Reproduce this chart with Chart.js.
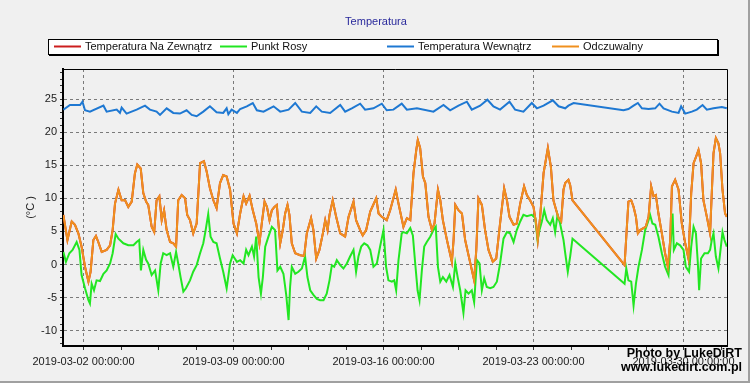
<!DOCTYPE html>
<html>
<head>
<meta charset="utf-8">
<script src="https://cdn.jsdelivr.net/npm/chart.js@4/dist/chart.umd.min.js"></script>
<style>
html,body{margin:0;padding:0;background:#f0f0f0;}
canvas{display:block;}
</style>
</head>
<body>
<canvas id="c" width="750" height="383"></canvas>
<script>
// ---- texts ----
const chartTitle = 'Temperatura';
const seriesNames = ['Temperatura Na Zewnątrz', 'Punkt Rosy', 'Temperatura Wewnątrz', 'Odczuwalny'];
const yAxisTitle = '(°C )';
const watermark = ['Photo by LukeDiRT', 'www.lukedirt.com.pl'];

// ---- x values: days since 2019-03-02 00:00:00 ----
// Odczuwalny (feels-like); the outside temperature coincides with it
const feelsDays = [-0.94,-0.75,-0.55,-0.40,-0.24,-0.09,0.07,0.23,0.33,0.46,0.58,0.69,0.85,1.08,1.24,1.36,1.47,1.63,1.78,1.94,2.09,2.25,2.40,2.51,2.67,2.79,2.92,3.02,3.18,3.30,3.41,3.54,3.65,3.76,3.88,4.04,4.19,4.32,4.42,4.58,4.74,4.84,4.97,5.12,5.28,5.44,5.62,5.75,5.90,6.06,6.21,6.37,6.52,6.68,6.84,
7.00,7.16,7.31,7.47,7.59,7.75,7.90,8.06,8.21,8.32,8.45,8.56,8.68,8.79,8.91,9.02,9.18,9.30,9.41,9.52,9.61,9.72,9.88,10.11,10.30,10.42,10.62,10.73,10.86,11.01,11.17,11.28,11.39,11.48,11.63,11.79,11.98,12.21,12.37,12.60,12.72,12.91,13.03,13.19,13.38,13.66,13.77,13.92,14.15,14.31,14.57,14.70,
14.93,15.09,15.25,15.40,15.53,15.60,15.71,15.84,15.95,16.10,16.26,16.38,16.54,16.65,16.77,16.96,17.19,17.27,17.35,17.50,17.66,17.81,18.05,18.23,18.33,18.43,18.59,18.74,18.90,19.10,19.26,19.44,19.63,19.76,19.88,20.07,20.22,20.38,20.56,20.69,20.84,21.00,21.12,21.20,21.31,21.47,21.67,21.81,21.93,22.06,22.17,22.29,22.40,
22.48,22.63,22.71,22.82,25.25,25.33,25.43,25.56,25.67,25.78,25.87,25.98,26.13,26.24,26.37,26.49,26.60,26.71,26.83,26.99,27.14,27.27,27.38,27.46,27.61,27.77,27.92,28.08,28.23,28.36,28.47,28.59,28.70,28.82,28.93,29.09,29.24,29.32,29.40,29.51,29.63,29.71,29.82,29.94,30.02];
const feelsVals = [7.5,3.7,6.5,6.0,4.7,2.7,-0.35,-2.6,-1.1,3.7,4.3,3.4,1.9,2.2,2.9,5.2,9.2,11.3,9.7,9.7,8.7,9.5,13.8,15.1,14.5,10.8,9.5,9.0,5.7,4.9,9.7,10.3,6.7,8.2,5.2,3.4,3.2,2.7,9.7,10.5,10.0,7.5,6.7,4.7,6.2,15.3,15.6,14.0,11.5,9.7,8.5,12.3,13.5,13.3,11.3,
6.2,4.7,7.7,10.3,9.2,10.4,8.2,6.2,3.2,6.2,9.5,8.7,6.7,8.2,8.7,9.0,3.2,5.2,7.7,9.0,7.5,3.2,1.7,1.4,1.3,4.7,7.0,5.2,0.9,2.2,4.7,6.7,5.2,7.5,9.7,7.2,4.7,4.2,7.2,9.5,6.7,5.2,4.4,5.2,8.0,10.0,7.7,7.2,6.7,8.2,11.3,9.2,
5.7,7.0,6.7,13.8,17.3,18.8,17.6,13.3,12.3,7.2,5.2,6.2,11.3,9.7,6.7,3.7,0.4,3.7,9.0,8.2,7.7,3.7,0.2,-2.4,2.2,10.0,9.0,5.2,2.2,0.4,0.9,6.2,11.5,9.7,7.2,6.0,6.2,9.2,11.8,10.5,9.7,8.7,6.2,3.7,7.2,13.8,17.6,14.8,9.7,8.2,7.0,6.5,11.3,
12.3,12.8,12.0,9.7,-0.1,4.2,9.5,9.7,8.7,7.2,4.7,5.2,5.5,5.7,7.2,11.8,10.3,10.5,7.7,4.7,1.7,-0.35,3.7,11.8,12.8,11.3,6.2,3.2,0.9,10.8,15.3,16.3,17.3,15.3,9.7,7.2,4.7,10.8,16.8,19.1,18.3,16.8,11.3,7.7,7.2];

// Punkt Rosy (dew point)
const dewDays = [-0.94,-0.82,-0.66,-0.51,-0.32,-0.19,-0.09,0.07,0.23,0.30,0.38,0.49,0.61,0.77,0.93,1.08,1.24,1.36,1.50,1.63,1.86,2.09,2.33,2.48,2.60,2.68,2.79,2.92,3.02,3.18,3.34,3.49,3.60,3.72,3.88,4.04,4.19,4.32,4.42,4.53,4.66,4.78,4.97,5.12,5.28,5.44,5.59,5.70,5.82,5.93,6.06,6.21,6.37,6.52,6.68,6.84,6.96,
7.16,7.31,7.47,7.59,7.70,7.86,7.96,8.06,8.17,8.28,8.37,8.48,8.63,8.79,8.94,9.05,9.18,9.33,9.46,9.57,9.64,9.72,9.88,10.03,10.19,10.34,10.45,10.58,10.73,10.89,11.04,11.20,11.35,11.48,11.59,11.70,11.82,11.98,12.13,12.29,12.44,12.60,12.72,12.83,12.96,13.10,13.25,13.38,13.53,13.69,13.84,14.00,14.12,14.23,14.39,14.50,14.59,14.70,14.85,
14.93,15.09,15.25,15.37,15.48,15.59,15.68,15.79,15.90,16.02,16.18,16.33,16.44,16.54,16.65,16.77,16.93,17.08,17.24,17.35,17.46,17.58,17.73,17.83,17.97,18.12,18.23,18.36,18.48,18.59,18.70,18.82,18.98,19.13,19.29,19.44,19.60,19.76,19.91,20.07,20.22,20.38,20.53,20.69,20.92,21.08,21.19,21.28,21.39,21.50,21.62,21.78,21.90,22.01,22.12,22.24,22.40,
22.48,22.60,22.71,22.82,25.25,25.33,25.43,25.56,25.67,25.78,25.90,26.06,26.21,26.37,26.44,26.55,26.68,26.83,26.99,27.14,27.30,27.42,27.49,27.55,27.69,27.84,28.00,28.11,28.26,28.36,28.47,28.58,28.67,28.73,28.82,28.98,29.14,29.24,29.32,29.40,29.51,29.63,29.71,29.82,29.91,30.02];
const dewVals = [1.9,0.4,1.7,2.2,3.4,2.2,-1.6,-3.6,-5.4,-5.9,-2.9,-3.9,-2.4,-2.5,-1.4,-0.9,0.15,1.7,4.6,3.9,3.2,2.9,2.9,3.4,3.7,-0.9,2.2,0.7,0.15,-1.6,-0.9,-3.9,0.15,1.7,1.4,1.7,-0.35,1.9,0.15,-1.9,-4.1,-3.6,-2.4,-1.1,-0.1,1.7,3.2,5.2,7.6,4.2,3.4,3.2,0.9,-1.1,-3.6,0.15,1.4,
0.4,0.65,0.15,2.2,1.4,2.7,1.2,4.2,-1.9,-4.4,-1.9,2.7,4.2,5.7,5.2,-0.9,-0.35,-1.4,-4.6,-8.4,-3.4,-0.35,-1.4,-1.1,-0.6,1.2,-1.9,-3.9,-4.6,-5.2,-5.4,-5.4,-4.4,-2.4,-0.1,-0.35,0.65,-0.1,-0.6,0.15,1.2,2.2,-1.1,1.2,2.7,3.2,2.9,2.2,-0.35,0.15,2.7,5.2,-0.35,-2.4,-2.6,-2.4,-3.9,0.65,4.7,
4.9,4.7,5.5,4.4,0.15,-3.9,-5.4,-0.9,2.7,3.4,4.2,5.2,5.7,-0.35,-2.6,-1.9,-2.6,-1.6,-3.4,0.15,-1.9,-3.9,-7.3,-3.9,-4.4,-3.9,-5.7,0.65,0.15,-3.9,-2.1,-3.4,-3.6,-3.4,-2.6,0.15,3.9,4.9,4.7,3.4,5.2,6.5,7.5,7.3,7.5,7.0,3.7,5.2,6.5,8.2,6.7,6.0,7.0,4.9,7.5,6.2,3.7,
1.7,-1.1,1.2,3.9,-2.9,-0.6,-2.4,-2.6,-6.2,-2.9,-0.35,2.2,5.2,6.7,7.5,6.2,6.0,4.2,1.7,-0.35,-1.6,4.2,7.7,2.2,3.2,2.9,2.2,-0.35,-1.1,2.7,5.7,4.7,0.15,-3.9,0.9,1.7,1.7,2.2,3.7,4.7,1.2,-0.6,1.7,4.9,3.7,2.7];

// Temperatura Wewnątrz (inside)
const insideDays = [-0.94,-0.63,-0.16,-0.05,0.07,0.30,0.93,1.08,1.55,1.70,1.78,2.01,2.48,2.87,3.10,3.41,3.57,3.88,4.19,4.50,4.81,5.05,5.28,5.59,5.90,6.21,6.52,6.68,6.76,6.91,
7.16,7.31,7.62,7.90,8.09,8.40,8.87,9.18,9.57,9.88,10.19,10.58,10.86,11.12,11.51,11.98,12.21,12.52,12.91,13.14,13.53,13.92,14.15,14.46,14.85,
15.09,15.56,16.33,16.80,17.11,17.50,17.89,18.12,18.51,18.85,19.13,19.44,19.88,20.14,20.53,20.92,21.16,21.47,21.90,22.17,22.48,
22.63,22.87,25.20,25.43,25.67,25.87,26.06,26.37,26.68,26.88,27.07,27.46,27.77,27.89,28.08,28.39,28.62,28.89,29.09,29.40,29.79,30.02];
const insideVals = [23.4,24.1,24.1,24.6,23.3,23.1,24.0,23.1,23.4,22.9,23.7,22.8,23.4,24.0,23.4,23.1,22.6,23.6,22.9,22.8,23.3,22.6,22.4,23.1,23.9,23.0,22.9,23.6,22.7,23.4,
22.9,23.5,23.9,24.4,23.3,23.1,23.9,23.1,23.4,24.4,23.1,22.9,23.9,23.1,22.9,24.1,23.1,23.6,24.3,23.4,23.6,24.3,23.3,23.4,24.3,
23.4,23.6,23.1,24.1,23.3,24.0,24.6,23.4,24.0,24.9,23.9,23.4,24.6,23.4,23.1,24.4,23.6,24.0,24.8,23.9,23.6,
24.0,24.4,23.3,23.5,24.0,24.4,23.6,23.5,23.6,24.3,23.6,23.1,22.9,23.9,22.8,23.1,23.4,24.1,23.4,23.6,23.8,23.6];

// ---- axis ticks ----
const xMajorTicks = [0, 7, 14, 21, 28];
const xMajorLabels = ['2019-03-02 00:00:00', '2019-03-09 00:00:00', '2019-03-16 00:00:00', '2019-03-23 00:00:00', '2019-03-30 00:00:00'];
const xMinorTicks = [1.75, 3.5, 5.25, 8.75, 10.5, 12.25, 15.75, 17.5, 19.25, 22.75, 24.5, 26.25, 29.75];
const yMajorTicks = [-10, -5, 0, 5, 10, 15, 20, 25];
const yMinorStep = 1;

const seriesColors = ['#cc1e1e', '#22e622', '#1e78d2', '#f0901e'];

const toPoints = (days, vals) => days.map((d, i) => ({ x: d, y: vals[i] }));

const FONT = '"Liberation Sans", Arial, sans-serif';
Chart.defaults.font.family = FONT;
Chart.defaults.font.size = 11;

const decor = {
  id: 'decor',
  beforeDraw(chart) {
    const c = chart.ctx;
    c.save();
    c.fillStyle = '#f0f0f0';
    c.fillRect(0, 0, chart.width, chart.height);
    c.restore();
  },
  afterDraw(chart) {
    const c = chart.ctx;
    const a = chart.chartArea;
    c.save();
    // top and right frame
    c.strokeStyle = '#000';
    c.lineWidth = 1;
    c.beginPath();
    c.moveTo(a.left, a.top + 0.5);
    c.lineTo(a.right + 0.5, a.top + 0.5);
    c.lineTo(a.right + 0.5, a.bottom);
    c.stroke();

    // title
    c.fillStyle = '#2a2a9c';
    c.font = '11px ' + FONT;
    c.textAlign = 'center';
    c.textBaseline = 'middle';
    c.fillText(chartTitle, 376, 22);

    // legend box
    c.fillStyle = '#ffffff';
    c.fillRect(48, 39, 670, 15);
    c.strokeStyle = '#000';
    c.lineWidth = 1;
    c.strokeRect(48.5, 39.5, 669, 15);
    c.fillStyle = '#000';
    c.fillRect(717, 40, 2, 16);
    c.fillRect(49, 54, 670, 2);

    const legendX = [54, 220, 387, 552];
    chart.data.datasets.forEach((ds, i) => {
      const x = legendX[i];
      c.strokeStyle = ds.borderColor;
      c.lineWidth = 2;
      c.beginPath();
      c.moveTo(x, 46.5);
      c.lineTo(x + 27, 46.5);
      c.stroke();
      c.fillStyle = '#111';
      c.font = '11px ' + FONT;
      c.textAlign = 'left';
      c.textBaseline = 'middle';
      c.fillText(ds.label, x + 31, 47);
    });

    // watermark
    c.fillStyle = '#000';
    c.font = 'bold 12.5px ' + FONT;
    c.textAlign = 'right';
    c.textBaseline = 'alphabetic';
    c.fillText(watermark[0], 742, 357);
    c.fillText(watermark[1], 742, 371);

    // window edges
    c.fillStyle = '#a0a0a0';
    c.fillRect(748, 0, 2, chart.height);
    c.fillRect(0, 381, chart.width, 2);
    c.restore();
  }
};

new Chart(document.getElementById('c'), {
  type: 'line',
  data: {
    datasets: [
      { label: seriesNames[0], data: toPoints(feelsDays, feelsVals), borderColor: seriesColors[0], order: 3 },
      { label: seriesNames[1], data: toPoints(dewDays, dewVals), borderColor: seriesColors[1], order: 1 },
      { label: seriesNames[2], data: toPoints(insideDays, insideVals), borderColor: seriesColors[2], order: 2 },
      { label: seriesNames[3], data: toPoints(feelsDays, feelsVals), borderColor: seriesColors[3], order: 0 }
    ]
  },
  options: {
    responsive: false,
    animation: false,
    devicePixelRatio: 1,
    elements: {
      line: { borderWidth: 2, tension: 0, fill: false },
      point: { radius: 0, hoverRadius: 0 }
    },
    layout: { padding: { top: 69, right: 23, bottom: 0, left: 0 } },
    plugins: {
      legend: { display: false },
      title: { display: false },
      tooltip: { enabled: false }
    },
    events: [],
    scales: {
      x: {
        type: 'linear',
        min: -0.957,
        max: 30.03,
        afterBuildTicks: (s) => {
          s.ticks = xMajorTicks.concat(xMinorTicks).sort((p, q) => p - q).map(v => ({ value: v }));
        },
        afterFit: (s) => { s.height = 37; },
        ticks: {
          autoSkip: false,
          maxRotation: 0,
          minRotation: 0,
          padding: 5,
          color: '#1a1a1a',
          font: { size: 11 },
          callback: (v) => {
            const i = xMajorTicks.indexOf(v);
            return i >= 0 ? xMajorLabels[i] : '';
          }
        },
        grid: {
          color: (ctx) => (ctx.tick && xMajorTicks.includes(ctx.tick.value)) ? '#7a7a7a' : 'rgba(0,0,0,0)',
          tickColor: '#333',
          tickLength: 4,
          lineWidth: 1,
          drawTicks: true
        },
        border: { display: true, color: '#000', width: 2, dash: [3, 3] }
      },
      y: {
        type: 'linear',
        min: -12.32,
        max: 29.54,
        afterBuildTicks: (s) => {
          const t = [];
          for (let v = -12; v <= 29; v += yMinorStep) t.push({ value: v });
          s.ticks = t;
        },
        afterFit: (s) => { s.width = 63; },
        ticks: {
          autoSkip: false,
          padding: 3,
          color: '#1a1a1a',
          font: { size: 11 },
          callback: (v) => yMajorTicks.includes(v) ? String(v) : ''
        },
        grid: {
          color: (ctx) => (ctx.tick && yMajorTicks.includes(ctx.tick.value)) ? '#7a7a7a' : 'rgba(0,0,0,0)',
          tickColor: '#333',
          tickLength: 3,
          lineWidth: 1,
          drawTicks: true
        },
        border: { display: true, color: '#000', width: 2, dash: [3, 3] },
        title: {
          display: true,
          text: yAxisTitle,
          color: '#1a1a1a',
          font: { size: 11 },
          padding: { top: 24, bottom: 0 }
        }
      }
    }
  },
  plugins: [decor]
});
</script>
</body>
</html>
